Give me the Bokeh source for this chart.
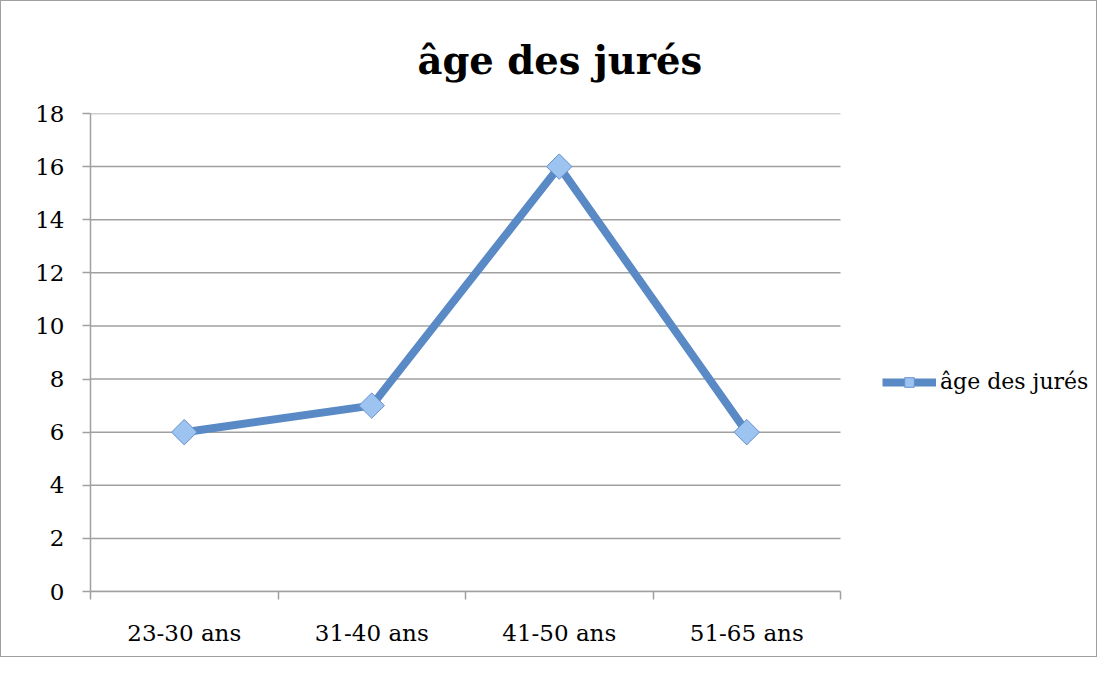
import math
from bokeh.plotting import figure
from bokeh.models import FixedTicker, Legend, LegendItem, Range1d, Title
from bokeh.embed import file_html
from bokeh.resources import INLINE

categories = ["23-30 ans", "31-40 ans", "41-50 ans", "51-65 ans"]
values = [6, 7, 16, 6]
series_name = "âge des jurés"
title_text = "âge des jurés"
y_ticks = [0, 2, 4, 6, 8, 10, 12, 14, 16, 18]

FONT = "DejaVu Serif"
GRID = "#a0a0a0"
LINE = "#5A8AC6"

W, H = 1097, 657
LEFT = 89
PLOT_W = 750  # pixel width of the category area
n = len(categories)
x_end = n * (W - LEFT) / PLOT_W  # extra room on the right for the legend

p = figure(width=W, height=H, output_backend="svg", toolbar_location=None,
           x_range=Range1d(0, x_end), y_range=Range1d(0, 18),
           min_border_left=LEFT, min_border_right=0, min_border_top=112, min_border_bottom=67)
p.styles = {"border": "1px solid #a0a0a0"}
p.outline_line_color = None
p.background_fill_color = "white"
p.border_fill_color = "white"

xs = [i + 0.5 for i in range(n)]

# axes
p.xaxis.ticker = FixedTicker(ticks=xs, minor_ticks=list(range(n + 1)))
p.xaxis.bounds = (0, n)
p.xaxis.major_label_overrides = {x: c for x, c in zip(xs, categories)}
p.xaxis.major_tick_line_color = None
p.xaxis.minor_tick_out = 8
p.xaxis.minor_tick_in = 0
p.xaxis.minor_tick_line_color = GRID
p.xaxis.minor_tick_line_width = 1.5
p.xaxis.axis_line_color = GRID
p.xaxis.axis_line_width = 1.5
p.xaxis.major_label_text_font = FONT
p.xaxis.major_label_text_font_size = "23px"
p.xaxis.major_label_text_color = "black"
p.xaxis.major_label_standoff = 20

p.yaxis.ticker = FixedTicker(ticks=y_ticks)
p.yaxis.minor_tick_line_color = None
p.yaxis.major_tick_out = 8
p.yaxis.major_tick_in = 0
p.yaxis.major_tick_line_color = GRID
p.yaxis.major_tick_line_width = 1.5
p.yaxis.axis_line_color = GRID
p.yaxis.axis_line_width = 1.5
p.yaxis.major_label_text_font = FONT
p.yaxis.major_label_text_font_size = "23px"
p.yaxis.major_label_text_color = "black"
p.yaxis.major_label_standoff = 18

p.xgrid.grid_line_color = None
p.ygrid.grid_line_color = None
# horizontal gridlines limited to the category area
p.segment(x0=[0] * len(y_ticks), x1=[n] * len(y_ticks), y0=y_ticks, y1=y_ticks,
          line_color=GRID, line_width=1.5)

r_line = p.line(xs, values, line_color=LINE, line_width=8)
r_pts = p.scatter(xs, values, marker="square", angle=math.pi / 4, size=18,
                  fill_color="#9DC3F0", line_color="#6690CC", line_width=1)

legend = Legend(items=[LegendItem(label=series_name, renderers=[r_line, r_pts])],
                location=(792, 197), orientation="vertical")
legend.label_text_font = FONT
legend.label_text_font_size = "22px"
legend.label_text_color = "black"
legend.glyph_width = 54
legend.glyph_height = 24
legend.label_standoff = 4
legend.padding = 0
legend.margin = 0
legend.border_line_color = None
legend.background_fill_alpha = 0
p.add_layout(legend, "center")

p.title = Title(text=title_text, align="left", offset=327, standoff=62,
                text_font=FONT, text_font_style="bold", text_font_size="38.5px",
                text_color="black")

open("out.html", "w").write(file_html(p, INLINE))
